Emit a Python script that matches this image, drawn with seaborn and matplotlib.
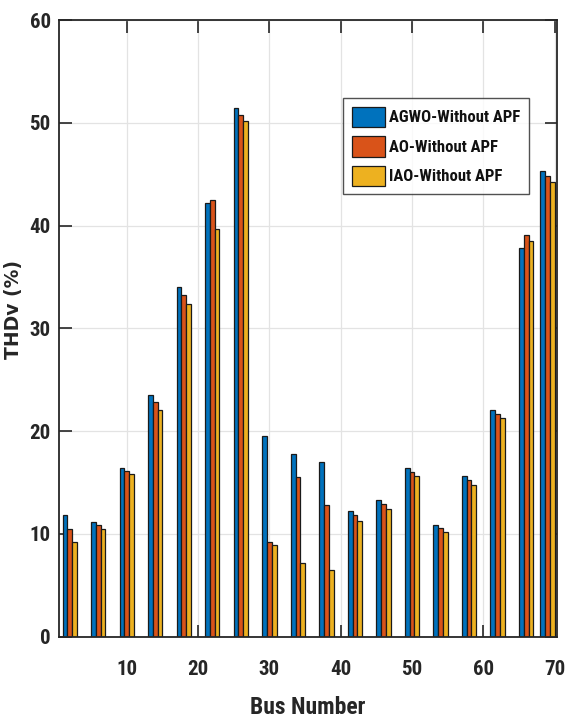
import matplotlib
matplotlib.use("Agg")
import matplotlib.pyplot as plt
import seaborn as sns
import pandas as pd
from matplotlib import font_manager
from matplotlib.font_manager import FontProperties

buses = [2, 6, 10, 14, 18, 22, 26, 30, 34, 38, 42, 46, 50, 54, 58, 62, 66, 69]
agwo = [11.8, 11.2, 16.4, 23.5, 34.0, 42.2, 51.4, 19.5, 17.8, 17.0, 12.2, 13.3, 16.4, 10.9, 15.6, 22.1, 37.8, 45.3]
ao = [10.5, 10.9, 16.1, 22.8, 33.2, 42.5, 50.8, 9.2, 15.5, 12.8, 11.8, 12.9, 16.0, 10.6, 15.2, 21.7, 39.1, 44.8]
iao = [9.2, 10.5, 15.8, 22.1, 32.4, 39.7, 50.2, 8.9, 7.2, 6.5, 11.3, 12.4, 15.6, 10.2, 14.8, 21.3, 38.5, 44.2]
series_names = ["AGWO-Without APF", "AO-Without APF", "IAO-Without APF"]
colors = ["#0072BD", "#D95319", "#EDB120"]
yticks = [0, 10, 20, 30, 40, 50, 60]
xticks = [10, 20, 30, 40, 50, 60, 70]

sns.set_theme(style="white")
plt.rcParams["font.family"] = ["Liberation Sans", "DejaVu Sans"]

# find a bold narrow/condensed font file, if any
def is_bold(f):
    w = f.weight
    if isinstance(w, str):
        return "bold" in w.lower() or w.lower() in ("heavy", "black")
    return w >= 600

narrow_file = None
scale = 1.0
prefs = ["Liberation Sans Narrow", "Roboto Condensed", "Open Sans Condensed", "Noto Sans Condensed"]
ttf = font_manager.fontManager.ttflist
for p in prefs:
    for f in ttf:
        if f.name == p and is_bold(f) and f.style == "normal":
            narrow_file = f.fname
            break
    if narrow_file:
        break
if narrow_file is None:
    for f in ttf:
        st = str(f.stretch).lower()
        if ("condensed" in st or "narrow" in f.name.lower() or "condensed" in f.name.lower()) \
                and is_bold(f) and f.style == "normal":
            narrow_file = f.fname
            if "DejaVu" in f.name:
                scale = 0.92
            break

def fp(size, weight="bold"):
    if narrow_file:
        return FontProperties(fname=narrow_file, size=size * scale)
    return FontProperties(family=["Liberation Sans", "DejaVu Sans"], weight=weight, size=size * 0.82)

df = pd.DataFrame({
    "Bus": buses * 3,
    "THD": agwo + ao + iao,
    "Method": [series_names[0]] * len(buses) + [series_names[1]] * len(buses) + [series_names[2]] * len(buses),
})

fig = plt.figure(figsize=(5.67, 7.2), dpi=100)
ax = fig.add_axes([0.104, 0.1157, 0.878, 0.8565])
sns.barplot(data=df, x="Bus", y="THD", hue="Method", native_scale=True,
            palette=colors, width=0.667, edgecolor="#1a1a1a", linewidth=0.9,
            saturation=1, ax=ax, legend=True)

ax.set_xlim(0.5, 70.3)
ax.set_ylim(0, 60)
ax.set_xticks(xticks)
ax.set_yticks(yticks)
ax.set_xticklabels([str(t) for t in xticks])
ax.set_yticklabels([str(t) for t in yticks])
for lab in ax.get_xticklabels() + ax.get_yticklabels():
    lab.set_fontproperties(fp(15))
    lab.set_color("#262626")
ax.tick_params(axis="both", direction="in", length=9, width=1.2, color="#262626",
               top=True, right=True, bottom=True, left=True)
ax.tick_params(axis="x", pad=17)
ax.tick_params(axis="y", pad=6)
ax.grid(True, color="#e3e3e3", linewidth=0.9)
ax.set_axisbelow(True)
for s in ax.spines.values():
    s.set_color("#262626")
    s.set_linewidth(1.3)

ax.set_xlabel("Bus Number", fontproperties=fp(17), color="#262626", labelpad=12)
ax.set_ylabel("THDv (%)", fontsize=13.5, fontweight="heavy", color="#262626",
              family=["DejaVu Sans"])
ax.yaxis.set_label_coords(-0.072, 0.53)

handles, labels = ax.get_legend_handles_labels()
leg = ax.legend(handles, labels, loc="upper left", bbox_to_anchor=(0.571, 0.873),
                prop=fp(12), frameon=True,
                fancybox=False, edgecolor="#262626", handlelength=2.0, handleheight=1.5,
                handletextpad=0.25, borderpad=0.5, labelspacing=0.55, borderaxespad=0)
leg.get_frame().set_linewidth(1.0)
for t in leg.get_texts():
    t.set_color("#111111")

fig.savefig("out.png", dpi=100)
